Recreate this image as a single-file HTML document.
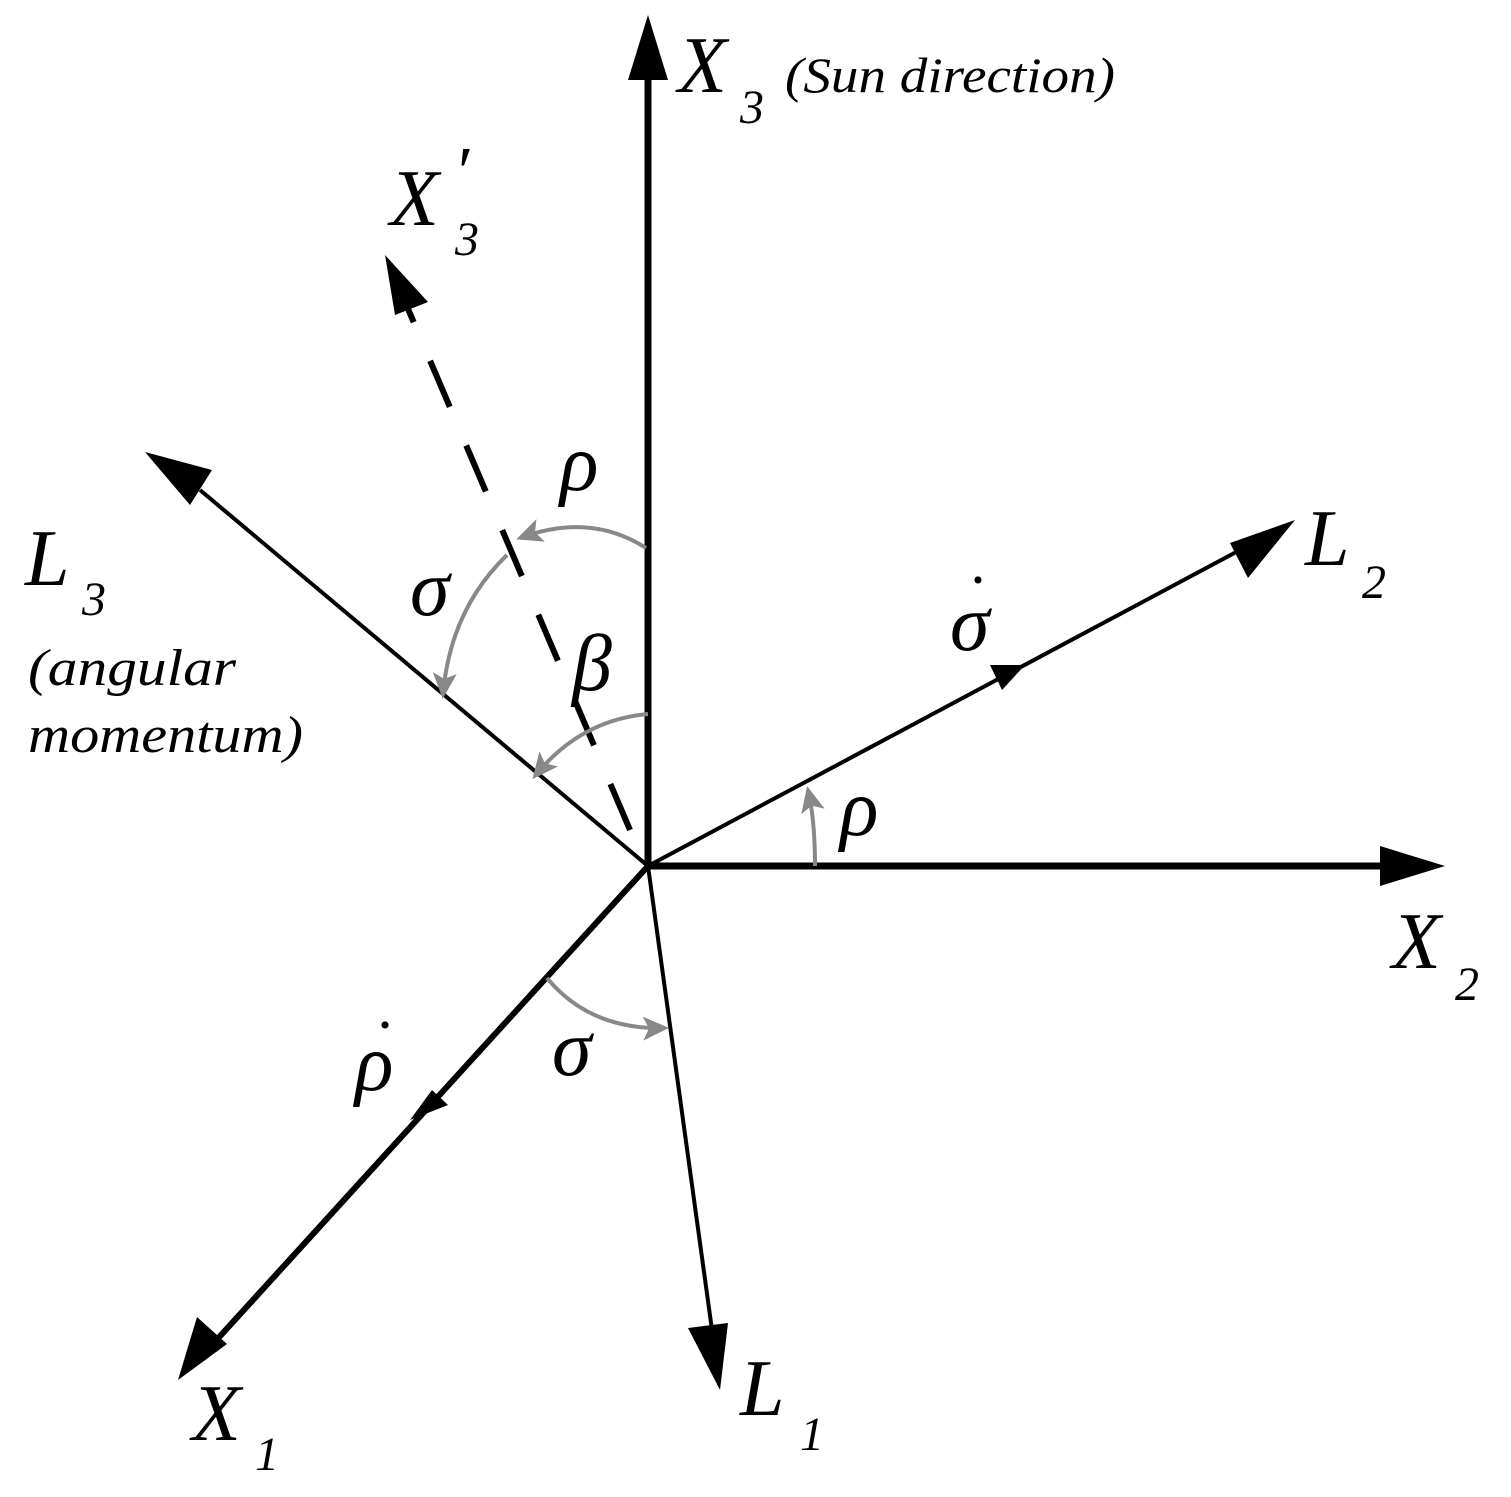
<!DOCTYPE html>
<html><head><style>body{margin:0;background:#fff}svg{display:block}</style></head><body>
<svg width="1511" height="1497" viewBox="0 0 1511 1497" xmlns="http://www.w3.org/2000/svg">
<defs>
<marker id="g" markerWidth="26" markerHeight="24" refX="22" refY="12" orient="auto" markerUnits="userSpaceOnUse" viewBox="0 0 26 24"><path d="M0,0 L26,12 L0,24 L6,12 z" fill="#888"/></marker>
</defs>
<g stroke="#000" fill="none" stroke-linecap="butt">
<line x1="648" y1="866" x2="648" y2="75" stroke-width="7"/>
<line x1="648" y1="866" x2="1390" y2="866" stroke-width="7"/>
<line x1="648" y1="866" x2="212" y2="1345" stroke-width="6"/>
<line x1="648" y1="866" x2="712" y2="1330" stroke-width="4"/>
<line x1="648" y1="866" x2="1240" y2="550" stroke-width="4"/>
<line x1="648" y1="866" x2="200" y2="490" stroke-width="4"/>
<line x1="630" y1="830" x2="400" y2="290" stroke-width="6" stroke-dasharray="50,42"/>
</g>
<g fill="#000">
<polygon points="648,15 628,80 668,80"/>
<polygon points="1445,866 1380,846 1380,886"/>
<polygon points="178,1380 197,1317 227,1344"/>
<polygon points="720,1390 688,1328 728,1323"/>
<polygon points="1295,520 1248,578 1230,543"/>
<polygon points="145,452 212,470 190,505"/>
<polygon points="385,255 428,302 395,315"/>
<polygon points="1025,665 990,665 1002,690"/>
<polygon points="410,1120 432,1090 448,1105"/>
</g>
<g stroke="#888" stroke-width="4" fill="none" marker-end="url(#g)">
<path d="M646,548 Q590,512 520,538"/>
<path d="M507,555 Q450,610 443,695"/>
<path d="M648,714 Q580,720 535,776"/>
<path d="M547,978 Q590,1030 665,1028"/>
<path d="M815,866 Q815,820 808,790"/>
</g>
<g font-family="Liberation Serif, serif" font-style="italic" fill="#000">
<text x="678" y="92" font-size="80">X</text><text x="740" y="123" font-size="48">3</text>
<text x="785" y="92" font-size="50" textLength="330" lengthAdjust="spacingAndGlyphs">(Sun direction)</text>
<text x="390" y="225" font-size="80">X</text><text x="455" y="255" font-size="48">3</text><text x="458" y="195" font-size="70" font-style="normal">′</text>
<text x="25" y="585" font-size="80">L</text><text x="82" y="615" font-size="48">3</text>
<text x="28" y="685" font-size="52" textLength="208" lengthAdjust="spacingAndGlyphs">(angular</text>
<text x="28" y="752" font-size="52" textLength="275" lengthAdjust="spacingAndGlyphs">momentum)</text>
<text x="1305" y="565" font-size="80">L</text><text x="1362" y="598" font-size="48">2</text>
<text x="1392" y="968" font-size="80">X</text><text x="1455" y="1000" font-size="48">2</text>
<text x="740" y="1415" font-size="80">L</text><text x="800" y="1450" font-size="48">1</text>
<text x="192" y="1440" font-size="80">X</text><text x="255" y="1470" font-size="48">1</text>
<text x="560" y="490" font-size="80">ρ</text>
<text x="410" y="615" font-size="80">σ</text>
<text x="572" y="690" font-size="80">β</text>
<text x="840" y="835" font-size="80">ρ</text>
<text x="950" y="650" font-size="80">σ</text><text x="968" y="600" font-size="60" font-style="normal">·</text>
<text x="552" y="1075" font-size="80">σ</text>
<text x="355" y="1090" font-size="80">ρ</text><text x="375" y="1045" font-size="60" font-style="normal">·</text>
</g>
</svg>
</body></html>
